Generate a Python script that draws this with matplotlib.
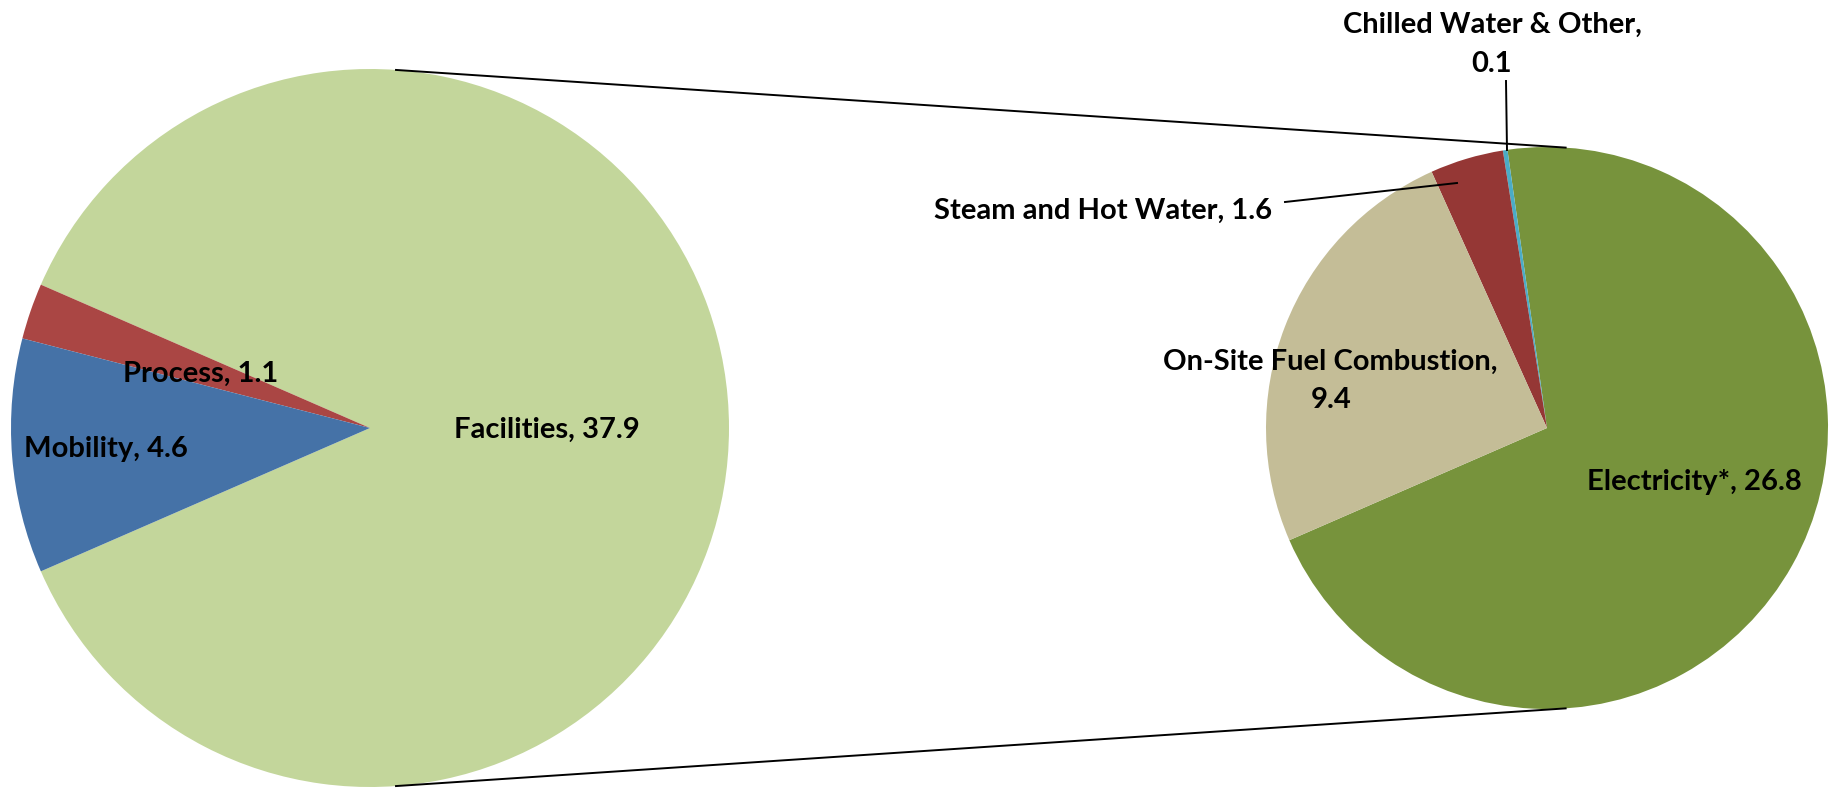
import numpy as np
import matplotlib.pyplot as plt

# ---------------------------------------------------------------------------
# Dados (primário: total; secundário: detalhamento de Facilities)
main_labels = ["Facilities", "Process", "Mobility"]
main_values = [37.9, 1.1, 4.6]
main_colors = ["#C3D69B", "#AA4644", "#4572A7"]

sub_labels = ["Electricity*", "Chilled Water & Other", "Steam and Hot Water",
              "On-Site Fuel Combustion"]
sub_values = [26.8, 0.1, 1.6, 9.4]
sub_colors = ["#77933C", "#4BACC6", "#953735", "#C4BD97"]

# ---------------------------------------------------------------------------
W, H = 1833, 788
FONT = dict(family="Lato", weight="bold", fontsize=21, color="black")

fig = plt.figure(figsize=(W / 100, H / 100), dpi=100)
ax = fig.add_axes([0, 0, 1, 1])
ax.set_xlim(0, W)
ax.set_ylim(0, H)
ax.set_aspect("equal")
ax.axis("off")


def py(y):
    """pixel (from top) -> data y (from bottom)"""
    return H - y


# geometria dos dois discos
c1, r1 = (370, py(428)), 359
c2, r2 = (1547, py(428)), 281

# fatia "outros" centrada à esquerda
start = 180 + (sum(main_values[1:]) / sum(main_values)) * 180

ax.pie(main_values, colors=main_colors, startangle=start, center=c1,
       radius=r1, wedgeprops=dict(linewidth=0), frame=True)
ax.pie(sub_values, colors=sub_colors, startangle=start, center=c2,
       radius=r2, wedgeprops=dict(linewidth=0), frame=True)
ax.set_xlim(0, W)
ax.set_ylim(0, H)
ax.axis("off")

# linhas de ligação entre os discos
for a in (86, -86):
    t = np.deg2rad(a)
    x0, y0 = c1[0] + r1 * np.cos(t), c1[1] + r1 * np.sin(t)
    x1, y1 = c2[0] + r2 * np.cos(t), c2[1] + r2 * np.sin(t)
    ax.plot([x0, x1], [y0, y1], color="black", lw=1.4, solid_capstyle="butt")


def lab(name, val):
    return f"{name}, {val:g}"


# rótulos do disco principal
ax.text(547, py(438), lab(main_labels[0], main_values[0]), ha="center",
        va="baseline", **FONT)
ax.text(201, py(382), lab(main_labels[1], main_values[1]), ha="center",
        va="baseline", **FONT)
ax.text(106, py(457), lab(main_labels[2], main_values[2]), ha="center",
        va="baseline", **FONT)

# rótulos do disco secundário
ax.text(1694, py(490), lab(sub_labels[0], sub_values[0]), ha="center",
        va="baseline", **FONT)
ax.text(1492, py(33), f"{sub_labels[1]},", ha="center", va="baseline", **FONT)
ax.text(1492, py(72), f"{sub_values[1]:g}", ha="center", va="baseline", **FONT)
ax.text(1272, py(219), lab(sub_labels[2], sub_values[2]), ha="right",
        va="baseline", **FONT)
ax.text(1330, py(370), f"{sub_labels[3]},", ha="center", va="baseline", **FONT)
ax.text(1331, py(408), f"{sub_values[3]:g}", ha="center", va="baseline", **FONT)

# linhas guia
ax.plot([1285, 1457], [py(202), py(183)], color="black", lw=1.4)
ax.plot([1506, 1507], [py(81), py(150)], color="black", lw=1.4)

fig.savefig("out.png", dpi=100, facecolor="white")
